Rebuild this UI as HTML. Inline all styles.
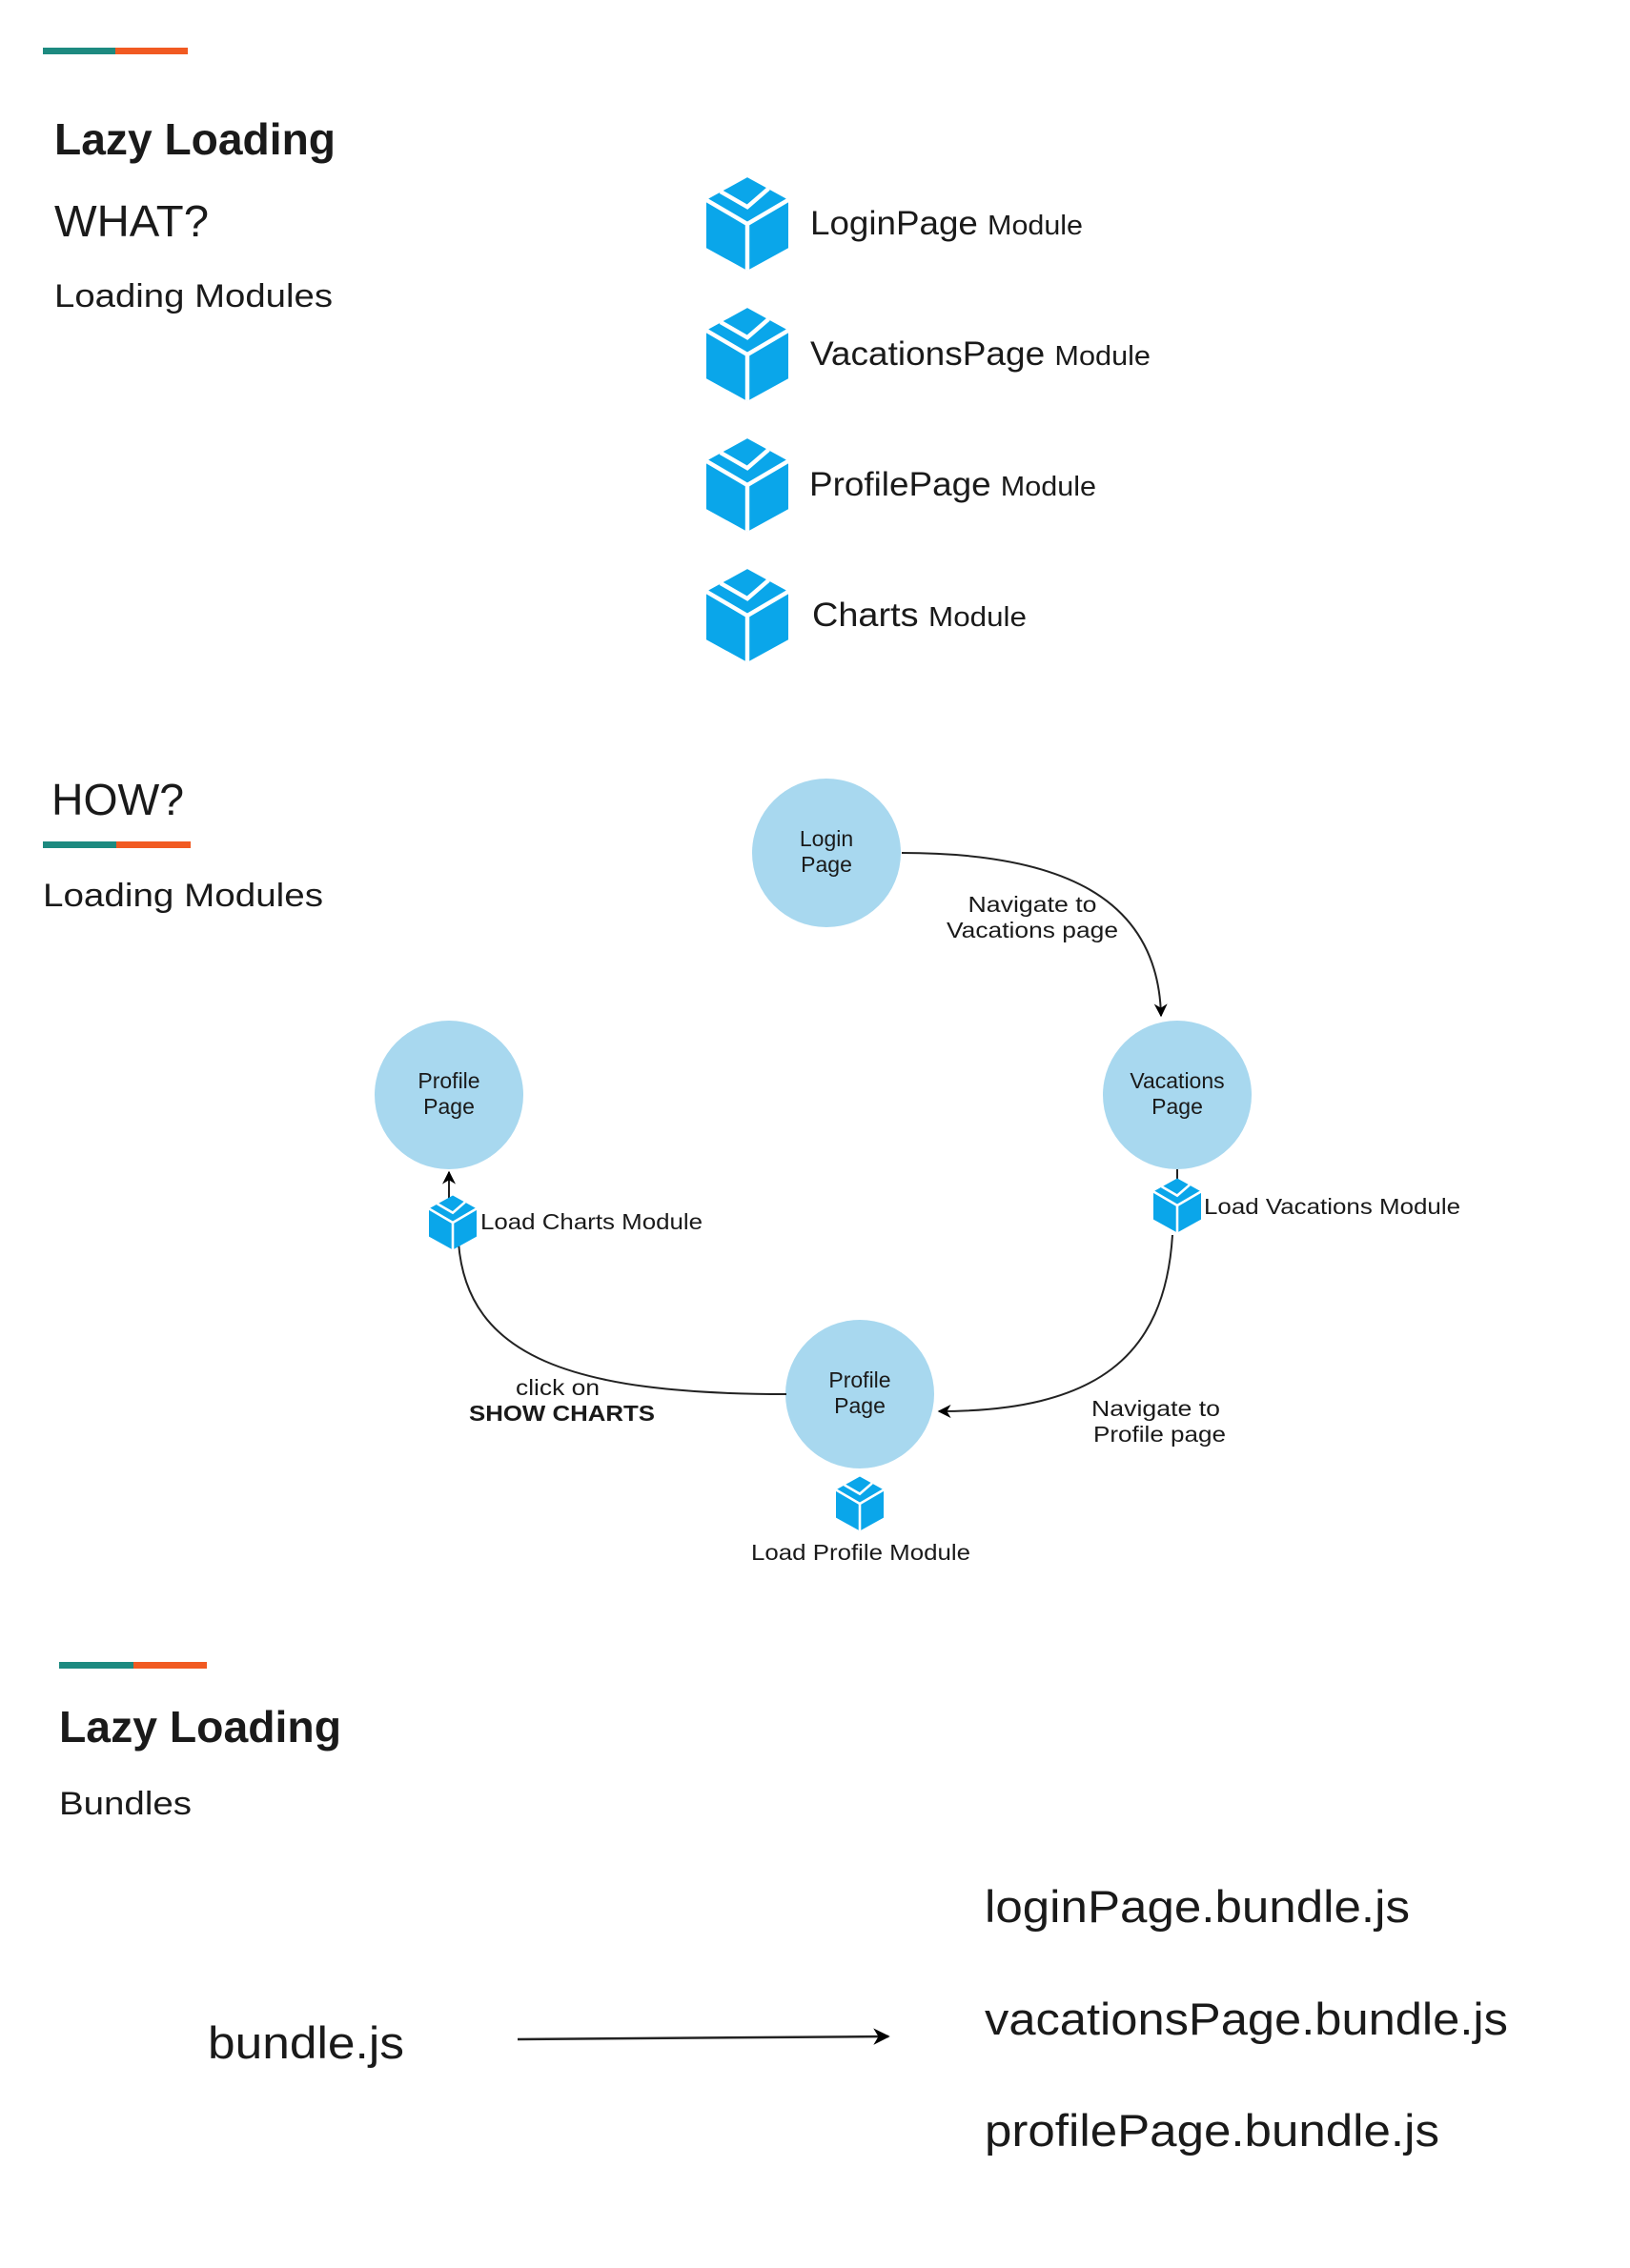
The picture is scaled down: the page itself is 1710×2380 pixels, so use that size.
<!DOCTYPE html>
<html><head><meta charset="utf-8"><style>
html,body{margin:0;padding:0;background:#fff;width:1710px;height:2380px;overflow:hidden}
svg{display:block}
text{font-family:"Liberation Sans",sans-serif;fill:#1a1a1a}
</style></head><body>
<svg width="1710" height="2380" viewBox="0 0 1710 2380" xmlns="http://www.w3.org/2000/svg">
<defs>
<symbol id="cube" viewBox="0 0 58 66">
<polygon points="29,0 58,16 58,50 29,66 0,50 0,16" fill="#0aa6ea"/>
<polyline points="0,16 29,33 58,16" fill="none" stroke="#fff" stroke-width="3"/>
<line x1="29" y1="33" x2="29" y2="66" stroke="#fff" stroke-width="3"/>
<polyline points="10,10 29,21 44,8" fill="none" stroke="#fff" stroke-width="3"/>
</symbol>
<marker id="ah" viewBox="0 0 10 10" refX="9" refY="5" markerWidth="7" markerHeight="7" orient="auto">
<path d="M0,0 L10,5 L0,10 L3,5 z" fill="#000"/>
</marker>
</defs>
<g transform="translate(0,4)">
<rect x="45" y="46" width="76" height="7" fill="#1d8a80"/>
<rect x="121" y="46" width="76" height="7" fill="#f15a22"/>
<text x="57" y="158" font-size="46" font-weight="bold" textLength="295" lengthAdjust="spacingAndGlyphs">Lazy Loading</text>
<text x="57" y="244" font-size="46" font-weight="300" fill="#222" textLength="162" lengthAdjust="spacingAndGlyphs">WHAT?</text>
<text x="57" y="318" font-size="34" fill="#222" textLength="292" lengthAdjust="spacingAndGlyphs">Loading Modules</text>

<use href="#cube" x="741" y="182" width="86" height="98"/>
<use href="#cube" x="741" y="319" width="86" height="98"/>
<use href="#cube" x="741" y="456" width="86" height="98"/>
<use href="#cube" x="741" y="593" width="86" height="98"/>
<text x="850" y="242" font-size="35" textLength="286" lengthAdjust="spacingAndGlyphs">LoginPage <tspan font-size="29">Module</tspan></text>
<text x="850" y="379" font-size="35" textLength="357" lengthAdjust="spacingAndGlyphs">VacationsPage <tspan font-size="29">Module</tspan></text>
<text x="849" y="516" font-size="35" textLength="301" lengthAdjust="spacingAndGlyphs">ProfilePage <tspan font-size="29">Module</tspan></text>
<text x="852" y="653" font-size="35" textLength="225" lengthAdjust="spacingAndGlyphs">Charts <tspan font-size="29">Module</tspan></text>

<text x="54" y="851" font-size="46" font-weight="300" fill="#222" textLength="139" lengthAdjust="spacingAndGlyphs">HOW?</text>
<rect x="45" y="879" width="77" height="7" fill="#1d8a80"/>
<rect x="122" y="879" width="78" height="7" fill="#f15a22"/>
<text x="45" y="947" font-size="34" fill="#222" textLength="294" lengthAdjust="spacingAndGlyphs">Loading Modules</text>

<circle cx="867" cy="891" r="78" fill="#a8d8ef"/>
<circle cx="1235" cy="1145" r="78" fill="#a8d8ef"/>
<circle cx="471" cy="1145" r="78" fill="#a8d8ef"/>
<circle cx="902" cy="1459" r="78" fill="#a8d8ef"/>
<g font-size="23" text-anchor="middle">
<text x="867" y="884">Login</text><text x="867" y="911">Page</text>
<text x="1235" y="1138">Vacations</text><text x="1235" y="1165">Page</text>
<text x="471" y="1138">Profile</text><text x="471" y="1165">Page</text>
<text x="902" y="1452">Profile</text><text x="902" y="1479">Page</text>
</g>

<g fill="none" stroke="#222" stroke-width="2">
<path d="M946,891 C1100,891 1215,930 1218,1062" marker-end="url(#ah)"/>
<line x1="1235" y1="1223" x2="1235" y2="1240"/>
<path d="M1230,1292 C1222,1420 1150,1477 985,1477" marker-end="url(#ah)"/>
<path d="M825,1459 C600,1459 490,1420 481,1300"/>
<line x1="471" y1="1258" x2="471" y2="1226" marker-end="url(#ah)"/>
</g>

<use href="#cube" x="1210" y="1232" width="50" height="58"/>
<use href="#cube" x="450" y="1250" width="50" height="58"/>
<use href="#cube" x="877" y="1545" width="50" height="58"/>

<g font-size="23">
<text x="1083" y="953" text-anchor="middle" textLength="135" lengthAdjust="spacingAndGlyphs">Navigate to</text>
<text x="1083" y="980" text-anchor="middle" textLength="180" lengthAdjust="spacingAndGlyphs">Vacations page</text>
<text x="1263" y="1270" textLength="269" lengthAdjust="spacingAndGlyphs">Load Vacations Module</text>
<text x="1145" y="1482" textLength="135" lengthAdjust="spacingAndGlyphs">Navigate to</text>
<text x="1147" y="1509" textLength="139" lengthAdjust="spacingAndGlyphs">Profile page</text>
<text x="788" y="1633" textLength="230" lengthAdjust="spacingAndGlyphs">Load Profile Module</text>
<text x="504" y="1286" textLength="233" lengthAdjust="spacingAndGlyphs">Load Charts Module</text>
<text x="585" y="1460" text-anchor="middle" textLength="88" lengthAdjust="spacingAndGlyphs">click on</text>
<text x="492" y="1487" font-weight="bold" textLength="195" lengthAdjust="spacingAndGlyphs">SHOW CHARTS</text>
</g>

<rect x="62" y="1740" width="78" height="7" fill="#1d8a80"/>
<rect x="140" y="1740" width="77" height="7" fill="#f15a22"/>
<text x="62" y="1824" font-size="46" font-weight="bold" textLength="296" lengthAdjust="spacingAndGlyphs">Lazy Loading</text>
<text x="62" y="1900" font-size="34" fill="#222" textLength="139" lengthAdjust="spacingAndGlyphs">Bundles</text>

<g font-size="47" font-weight="300" fill="#222" transform="translate(0,5)">
<text x="218" y="2151" textLength="206" lengthAdjust="spacingAndGlyphs">bundle.js</text>
<text x="1033" y="2008" textLength="446" lengthAdjust="spacingAndGlyphs">loginPage.bundle.js</text>
<text x="1033" y="2126" textLength="549" lengthAdjust="spacingAndGlyphs">vacationsPage.bundle.js</text>
<text x="1033" y="2243" textLength="477" lengthAdjust="spacingAndGlyphs">profilePage.bundle.js</text>
</g>
<line x1="543" y1="2136" x2="932" y2="2133" stroke="#222" stroke-width="2.5" marker-end="url(#ah)"/>
</g>
</svg>
</body></html>
